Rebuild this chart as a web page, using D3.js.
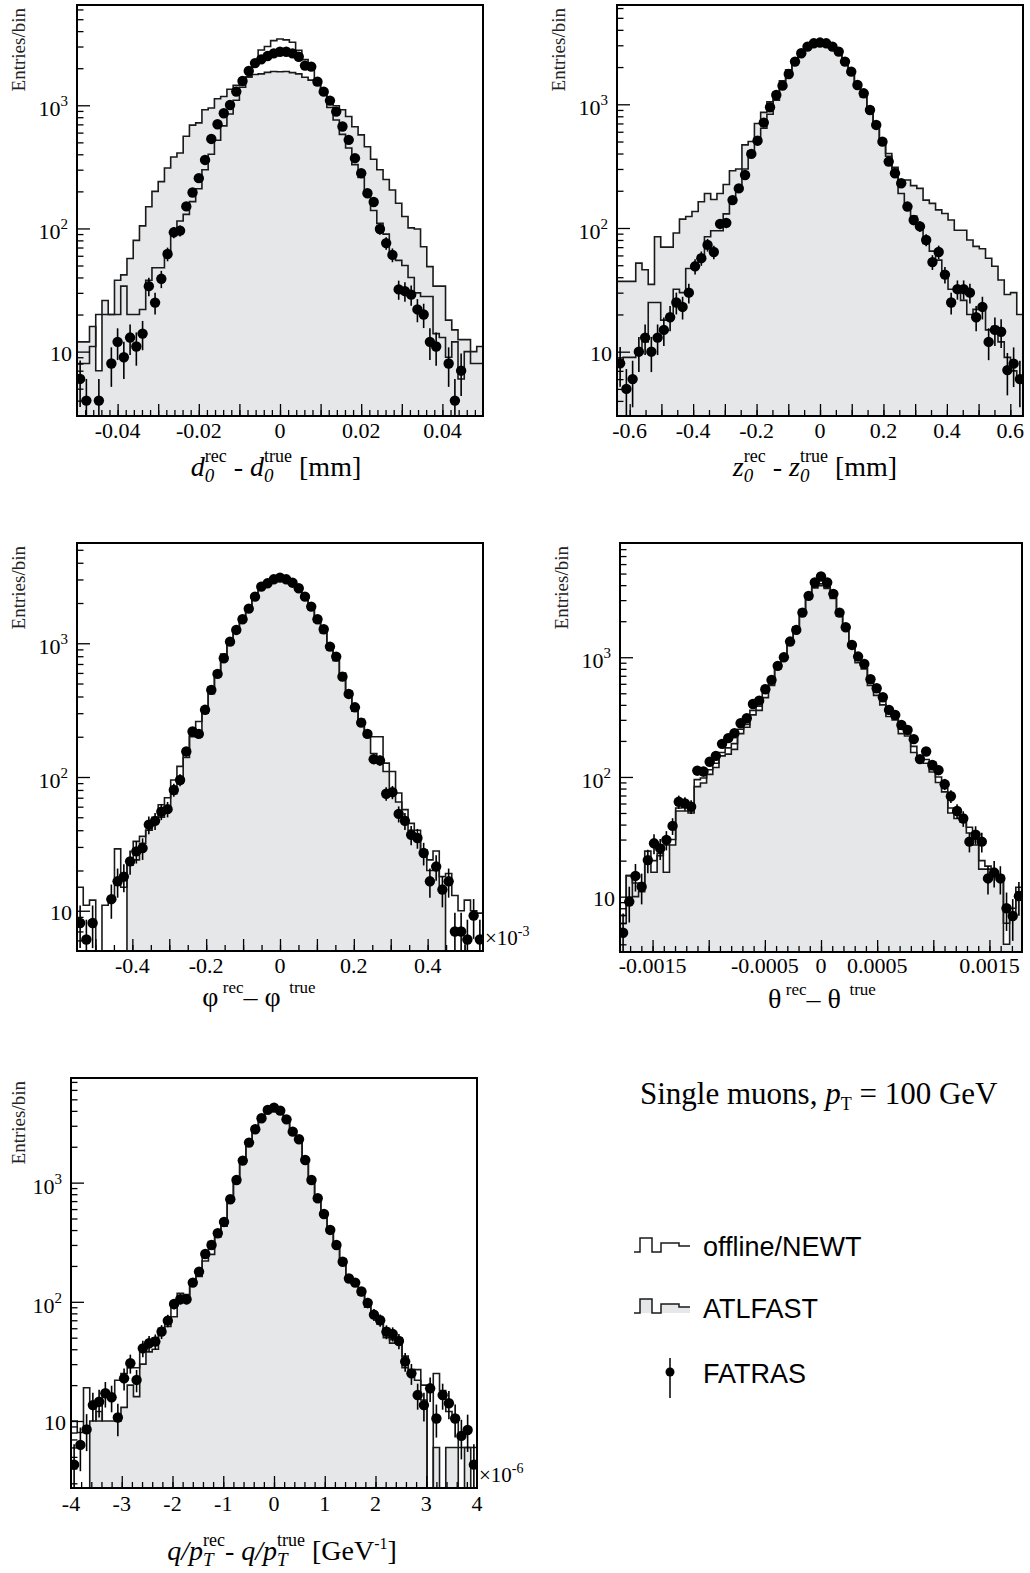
<!DOCTYPE html>
<html><head><meta charset="utf-8">
<script src="https://cdn.jsdelivr.net/npm/d3@7"></script>
<style>
body{margin:0;background:#fff;}
svg{display:block;}
text{fill:#000;}
</style></head><body>
<svg id="c" width="1030" height="1573"></svg>
<script>
// ---------------- DATA ----------------
// 65 bins per histogram
const d0Range = [-0.05, 0.05];
const d0Offline = [8,8,11,20,20,20,20,34,20,20, 22,38,48,48,65,90,115,130,165,210, 300,400,520,680,850,1100,1400,1700,2150,2810, 3000,3350,3450,3400,3250,2800,2350,2050,1600,1250, 960,760,580,450,330,260,190,140,110,90, 62,55,50,40,30,28,28,14,13,9, 12,6,10,8,8];
const d0Atlfast = [12,12,16,7,26,20,38,42,57,80, 105,150,200,240,310,380,410,560,690,720, 920,950,1130,1180,1350,1450,1600,1700,1780,1800, 1850,1880,1870,1880,1840,1800,1690,1600,1460,1320, 1120,990,920,810,670,575,460,365,300,250, 205,160,125,101,99,71,49,34,34,18, 15,12.5,12.5,10,11];
const d0Fatras = [6,4,null,4,null,8,12,9,13,11, 14,34,25,39,62,93,96,151,196,256, 360,533,701,861,1006,1291,1575,1900,2200,2360, 2510,2640,2720,2720,2640,2480,2100,2060,1556,1290, 1091,889,672,524,372,281,193,164,99,76, 61,32,31,29,22,20,12,11,null,8, 4,7,null,null,null];
const d0TickValues = [-0.04,-0.02,0,0.02,0.04];
const d0TickLabels = ["-0.04","-0.02","0","0.02","0.04"];

const z0Range = [-0.64, 0.64];
const z0Offline = [8,9,9,10,12,25,25,18,20,32, 30,47,50,60,85,95,95,130,160,210, 300,420,520,640,830,1080,1400,1800,2200,2600, 2900,3100,3150,3100,2900,2650,2200,1750,1450,1150, 950,720,520,380,300,190,150,125,105,75, 65,55,40,32,32,26,20,22,22,15, 16,12,9,7,6];
const z0Atlfast = [37,37,37,52,46,35,85,70,70,91, 118,124,136,163,190,170,190,225,290,300, 470,500,700,860,1050,1250,1550,1900,2250,2550, 2850,3000,3050,3000,2850,2550,2150,1800,1400,1150, 860,650,500,400,310,233,244,220,209,168, 158,140,131,116,96,96,80,71,68,57, 49,38,29,30,20];
const z0Fatras = [8.05,5.0,6.0,10,13,10,13,15,19,25, 23,30,49,57,73,64,108,110,168,209, 268,397,508,711,946,1190,1415,1757,2214,2584, 2924,3112,3155,3112,2924,2667,2214,1837,1433,1227, 900,681,499,344,277,230,149,116,103,80, 53,64,42,25,32,32,30,19,23,12, 15,14.5,7.1,8,6];
const z0TickValues = [-0.6,-0.4,-0.2,0,0.2,0.4,0.6];
const z0TickLabels = ["-0.6","-0.4","-0.2","0","0.2","0.4","0.6"];

const phiRange = [-0.55, 0.55];
const phiOffline = [15,11,12,0,11,12,29,15,22,33, 36,40,50,62,70,95,120,160,210,260, 330,470,620,830,1000,1250,1550,1800,2300,2600, 2800,3000,3050,3000,2850,2600,2250,1850,1450,1200, 900,760,600,440,330,270,212,200,200,127, 110,76,57,45,40,28.5,24,28,18,19, 13,10,12,10,9.6];
const phiAtlfast = [0,0,0,0,0,0,0,0,22,24, 32,40,45,50,60,75,90,140,200,200, 300,420,560,740,980,1200,1450,1750,2150,2550, 2750,2950,3000,2950,2800,2500,2150,1800,1450,1200, 900,740,560,400,310,250,200,150,140,110, 80,65,50,40,36,28,20,22,14,0, 0,0,0,0,0];
const phiFatras = [8.1,6.1,8.1,null,null,12.2,16.6,18,23.4,27.8, 29.4,44,47,55,57.5,80,95,155,219,210, 318,448,590,773,1028,1258,1511,1815,2232,2651, 2807,3007,3095,3007,2838,2577,2232,1880,1511,1272, 944,795,563,418,332,255,210,136,133,75, 77,53,47,37,35,27,16.6,21.4,14.4,16.6, 7,7,6.1,9.2,6.1];
const phiTickValues = [-0.4,-0.2,0,0.2,0.4];
const phiTickLabels = ["-0.4","-0.2","0","0.2","0.4"];

const thetaRange = [-0.00179, 0.00179];
const thetaOffline = [6,15,10,11,19,20,22,27,30,55, 58,50,95,98,115,130,160,175,190,250, 275,360,390,500,600,850,1050,1400,1800,2500, 3300,3900,4100,3850,3200,2300,1750,1250,950,850, 620,510,430,340,310,250,230,180,140,140, 115,100,80,55,50,45,38,30,20,18, 15,15,6,7,11];
const thetaAtlfast = [7,15,13,12,24,16,23,16,27,52, 52,52,83,89,105,120,150,155,170,230, 260,330,360,460,580,800,1000,1350,1750,2400, 3100,3800,3950,3750,3100,2200,1700,1200,900,800, 580,480,400,320,300,230,220,160,135,130, 110,90,75,50,45,42,34,27,17,17, 15,15,4,8,12];
const thetaFatras = [5.0,9.1,14.9,12.1,20.2,27.9,25.3,29.8,39,62, 60,56.5,113,111,134,150,189,211,232,281, 309,407,434,540,647,847,1000,1352,1692,2360, 3257,4209,4722,4209,3384,2360,1782,1267,1013,880, 655,551,463,363,330,272,247,207,141,163, 126,114,87,69,52,45,28.8,33,28.8,14.2, 15.9,14.2,8.0,6.9,10.1];
const thetaTickValues = [-0.0015,-0.0005,0,0.0005,0.0015];
const thetaTickLabels = ["-0.0015","-0.0005","0","0.0005","0.0015"];

const qptRange = [-4, 4];
const qptOffline = [10,8,19,13,10,17,16,22,25,28, 28,40,47,50,55,70,90,105,115,140, 180,250,320,390,480,760,1080,1560,2200,2850, 3450,4050,4250,4000,3400,2650,2250,1550,1000,700, 520,380,290,210,155,140,115,95,80,65, 60,45,50,35,25,27,20,0,25,18, 12,10,6,6,6];
const qptAtlfast = [0,0,0,10,12,10,10,10,13,20, 16,30,38,40,60,62,75,118,100,150, 163,220,250,350,430,700,1000,1500,2100,2700, 3400,4000,4300,4000,3400,2700,2300,1500,1050,740, 570,420,310,230,160,150,125,90,80,70, 50,48,45,28,27,22,15,0,6,0, 6,6,0,6,0];
const qptFatras = [4.3,6.3,8.5,13.6,14.5,17.1,15.8,10.7,22.8,30.5, 22.1,40.7,44.9,46.4,56.2,69.5,95.9,105,105,145, 179,252,300,376,468,725,1053,1530,2168,2805, 3470,4075,4260,4018,3397,2677,2310,1550,1053,739, 546,401,300,217,157,145,122,98,78,70, 56,53.7,46.9,31.5,25.1,16.5,13.6,18.8,10.5,16.5, 14.1,10.5,7.5,8.4,4.3];
const qptTickValues = [-4,-3,-2,-1,0,1,2,3,4];
const qptTickLabels = ["-4","-3","-2","-1","0","1","2","3","4"];

const yDecades = [10, 100, 1000];
const yDecadeExp = ["", "2", "3"];
const legendNames = ["offline/NEWT", "ATLFAST", "FATRAS"];

// ---------------- LAYOUT / STYLE ----------------
const FILL = "#e6e7e9", LINE = "#1a1a1a";
const SERIF = "'Liberation Serif','Times New Roman',serif";
const SANS = "'Liberation Sans',Arial,sans-serif";
const svg = d3.select("#c");

const panels = [
  {id:"d0", range:d0Range, off:d0Offline, atl:d0Atlfast, fat:d0Fatras, tv:d0TickValues, tl:d0TickLabels,
   f:[77,5,483,416], yd:[3.0,6520], major:0.01, minor:0.002, lblY:438, entX:25},
  {id:"z0", range:z0Range, off:z0Offline, atl:z0Atlfast, fat:z0Fatras, tv:z0TickValues, tl:z0TickLabels,
   f:[617,5,1023,416], yd:[3.02,6350], major:0.1, minor:0.05, lblY:438, entX:565},
  {id:"phi", range:phiRange, off:phiOffline, atl:phiAtlfast, fat:phiFatras, tv:phiTickValues, tl:phiTickLabels,
   f:[77,543,483,951], yd:[5.0,5620], major:0.1, minor:0.05, lblY:973, entX:25, exp:"-3"},
  {id:"theta", range:thetaRange, off:thetaOffline, atl:thetaAtlfast, fat:thetaFatras, tv:thetaTickValues, tl:thetaTickLabels,
   f:[620,543,1022,952], yd:[3.45,9000], major:0.0005, minor:0.0001, lblY:973, entX:568},
  {id:"qpt", range:qptRange, off:qptOffline, atl:qptAtlfast, fat:qptFatras, tv:qptTickValues, tl:qptTickLabels,
   f:[71,1078,477,1488], yd:[2.74,7550], major:1, minor:0.2, lblY:1511, entX:25, exp:"-6"}
];

function rich(parent, x, y, segs, anchor, family) {
  const g = parent.append("g");
  let cx = 0, segStart = 0;
  segs.forEach(s => {
    const sx = s.stack ? segStart : cx;
    const t = g.append("text").attr("x", sx).attr("y", s.dy || 0)
      .attr("xml:space", "preserve").style("white-space", "pre")
      .style("font-family", family || SERIF).style("font-size", s.size + "px")
      .style("font-style", s.it ? "italic" : "normal").text(s.t);
    const w = t.node().getComputedTextLength();
    if (s.stack) cx = Math.max(cx, sx + w); else { segStart = sx; cx = sx + w; }
  });
  const off = anchor === "middle" ? -cx / 2 : anchor === "end" ? -cx : 0;
  g.attr("transform", `translate(${x + off},${y})`);
  return g;
}

function multiples(lo, hi, step) {
  const out = [];
  const k0 = Math.ceil(lo / step - 1e-6), k1 = Math.floor(hi / step + 1e-6);
  for (let k = k0; k <= k1; k++) {
    const v = +(k * step).toPrecision(10);
    if (v > lo + step * 0.01 && v < hi - step * 0.01) out.push(v);
  }
  return out;
}

panels.forEach((p, pi) => {
  const [fx0, fy0, fx1, fy1] = p.f;
  const x = d3.scaleLinear().domain(p.range).range([fx0, fx1]);
  const y = d3.scaleLog().domain(p.yd).range([fy1, fy0]).clamp(true);
  const n = p.off.length;
  const bw = (p.range[1] - p.range[0]) / n;
  const g = svg.append("g");
  const clipId = "clip" + pi;
  svg.append("clipPath").attr("id", clipId).append("rect")
    .attr("x", fx0).attr("y", fy0).attr("width", fx1 - fx0).attr("height", fy1 - fy0);
  const plot = g.append("g").attr("clip-path", `url(#${clipId})`);
  const vClamp = v => Math.max(v || 0, p.yd[0]);
  const steps = vals => {
    const pts = [];
    vals.forEach((v, i) => { pts.push([p.range[0] + i * bw, v]); pts.push([p.range[0] + (i + 1) * bw, v]); });
    return pts;
  };
  const line = d3.line().x(d => x(d[0])).y(d => y(vClamp(d[1])));
  const area = d3.area().x(d => x(d[0])).y0(fy1).y1(d => y(vClamp(d[1])));

  // ATLFAST filled
  plot.append("path").attr("d", area(steps(p.atl))).attr("fill", FILL).attr("stroke", "none");
  plot.append("path").attr("d", line(steps(p.atl))).attr("fill", "none").attr("stroke", LINE).attr("stroke-width", 1.6);
  // offline
  plot.append("path").attr("d", line(steps(p.off))).attr("fill", "none").attr("stroke", LINE).attr("stroke-width", 1.6);
  // FATRAS points
  const pts = p.fat.map((v, i) => ({x: p.range[0] + (i + 0.5) * bw, v})).filter(d => d.v != null && d.v >= p.yd[0] * 0.98);
  plot.selectAll("line.err").data(pts).join("line").attr("class", "err")
    .attr("x1", d => x(d.x)).attr("x2", d => x(d.x))
    .attr("y1", d => y(vClamp(d.v - Math.sqrt(d.v)))).attr("y2", d => y(d.v + Math.sqrt(d.v)))
    .attr("stroke", "#000").attr("stroke-width", 1.6);
  plot.selectAll("circle.pt").data(pts).join("circle").attr("class", "pt")
    .attr("cx", d => x(d.x)).attr("cy", d => y(d.v)).attr("r", 5.2).attr("fill", "#000");

  // x axis ticks (inside)
  const xMinor = multiples(p.range[0], p.range[1], p.minor);
  const xMajor = multiples(p.range[0], p.range[1], p.major);
  const gxm = g.append("g").attr("transform", `translate(0,${fy1})`)
    .call(d3.axisBottom(x).tickValues(xMinor).tickSize(-6).tickFormat(""));
  const gxM = g.append("g").attr("transform", `translate(0,${fy1})`)
    .call(d3.axisBottom(x).tickValues(xMajor).tickSize(-12).tickFormat(""));
  [gxm, gxM].forEach(a => { a.select(".domain").remove(); a.selectAll("line").attr("stroke", "#000").attr("stroke-width", 1.3); });
  g.selectAll(null).data(p.tv).join("text").attr("x", (d) => x(d)).attr("y", p.lblY)
    .attr("text-anchor", "middle").style("font-family", SERIF).style("font-size", "22px").text((d, i) => p.tl[i]);

  // y axis ticks (inside)
  const yMinor = [];
  for (let e = 0; e <= 4; e++) for (let m = 2; m <= 9; m++) {
    const v = m * Math.pow(10, e);
    if (v > p.yd[0] && v < p.yd[1]) yMinor.push(v);
  }
  const gym = g.append("g").attr("transform", `translate(${fx0},0)`)
    .call(d3.axisLeft(y).tickValues(yMinor).tickSize(-6.5).tickFormat(""));
  const gyM = g.append("g").attr("transform", `translate(${fx0},0)`)
    .call(d3.axisLeft(y).tickValues(yDecades).tickSize(-13).tickFormat(""));
  [gym, gyM].forEach(a => { a.select(".domain").remove(); a.selectAll("line").attr("stroke", "#000").attr("stroke-width", 1.3); });
  yDecades.forEach((v, i) => {
    if (yDecadeExp[i] === "") {
      g.append("text").attr("x", fx0 - 5).attr("y", y(v) + 9).attr("text-anchor", "end")
        .style("font-family", SERIF).style("font-size", "22px").text("10");
    } else {
      rich(g, fx0 - 9, y(v) + 11, [{t: "10", size: 22}, {t: yDecadeExp[i], size: 15, dy: -10}], "end");
    }
  });

  // frame
  g.append("rect").attr("x", fx0).attr("y", fy0).attr("width", fx1 - fx0).attr("height", fy1 - fy0)
    .attr("fill", "none").attr("stroke", "#000").attr("stroke-width", 2);

  // y title
  g.append("text").attr("transform", `translate(${p.entX},${fy0 + 3}) rotate(-90)`)
    .attr("text-anchor", "end").style("font-family", SERIF).style("font-size", "19px").style("fill", "#222").text("Entries/bin");

  if (p.exp) {
    rich(g, fx1 + 2, fy1 - 6, [{t: "×10", size: 21}, {t: p.exp, size: 14, dy: -9}], "start");
  }
});

// x titles
const T = 28, S = 18, SB = 19;
rich(svg, 276, 476, [
  {t: "d", size: T, it: 1}, {t: "0", size: SB, it: 1, dy: 6}, {t: "rec", size: S, dy: -14, stack: 1},
  {t: " - ", size: T}, {t: "d", size: T, it: 1}, {t: "0", size: SB, it: 1, dy: 6}, {t: "true", size: S, dy: -14, stack: 1},
  {t: " [mm]", size: T}], "middle");
rich(svg, 815, 476, [
  {t: "z", size: T, it: 1}, {t: "0", size: SB, it: 1, dy: 6}, {t: "rec", size: S, dy: -14, stack: 1},
  {t: " - ", size: T}, {t: "z", size: T, it: 1}, {t: "0", size: SB, it: 1, dy: 6}, {t: "true", size: S, dy: -14, stack: 1},
  {t: " [mm]", size: T}], "middle");
rich(svg, 259, 1006, [
  {t: "φ", size: T}, {t: " rec", size: 17, dy: -13}, {t: "– φ", size: T}, {t: "  true", size: 17, dy: -13}], "middle");
rich(svg, 822, 1008, [
  {t: "θ", size: T}, {t: " rec", size: 17, dy: -13}, {t: "– θ", size: T}, {t: "  true", size: 17, dy: -13}], "middle");
rich(svg, 282, 1560, [
  {t: "q/p", size: T, it: 1}, {t: "T", size: SB, it: 1, dy: 6}, {t: "rec", size: S, dy: -14, stack: 1},
  {t: "- ", size: T}, {t: "q/p", size: T, it: 1}, {t: "T", size: SB, it: 1, dy: 6}, {t: "true", size: S, dy: -14, stack: 1},
  {t: " [GeV", size: T}, {t: "-1", size: 16, dy: -11}, {t: "]", size: T}], "middle");

// legend
rich(svg, 640, 1104, [
  {t: "Single muons, ", size: 31}, {t: "p", size: 31, it: 1}, {t: "T", size: 18, dy: 6}, {t: " = 100 GeV", size: 31}], "start");

const leg = svg.append("g");
const stepIcon = (y0) => `M634,${y0+14} H640 V${y0} H652 V${y0+14} H661 V${y0+5} H679 V${y0+8} H690`;
leg.append("path").attr("d", stepIcon(1238)).attr("fill", "none").attr("stroke", LINE).attr("stroke-width", 1.5);
leg.append("path").attr("d", stepIcon(1299) + " V1313 H640 Z").attr("fill", FILL).attr("stroke", "none");
leg.append("path").attr("d", stepIcon(1299)).attr("fill", "none").attr("stroke", LINE).attr("stroke-width", 1.5);
leg.append("line").attr("x1", 670).attr("x2", 670).attr("y1", 1358).attr("y2", 1398).attr("stroke", "#000").attr("stroke-width", 1.5);
leg.append("circle").attr("cx", 670).attr("cy", 1372).attr("r", 4.5).attr("fill", "#000");
[1256, 1318, 1383].forEach((yy, i) => {
  leg.append("text").attr("x", 703).attr("y", yy).style("font-size", "27px")
    .style("font-family", SANS).text(legendNames[i]);
});
</script>
</body></html>
